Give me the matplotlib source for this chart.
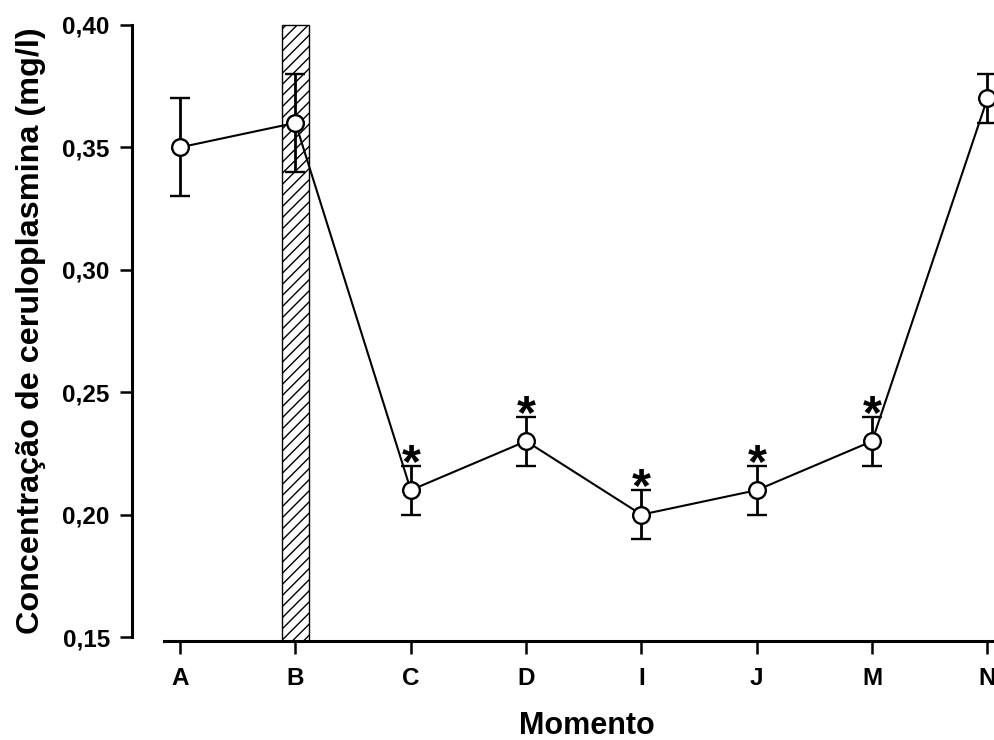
import numpy as np
import matplotlib
matplotlib.use("Agg")
import matplotlib.pyplot as plt

plt.rcParams['font.family'] = ['Liberation Sans', 'DejaVu Sans']
plt.rcParams['font.weight'] = 'bold'
plt.rcParams['hatch.linewidth'] = 1.0

# dados
momentos = ["A", "B", "C", "D", "I", "J", "M", "N"]
medias = [0.35, 0.36, 0.21, 0.23, 0.20, 0.21, 0.23, 0.37]
erros = [0.02, 0.02, 0.01, 0.01, 0.01, 0.01, 0.01, 0.01]
signif = [False, False, True, True, True, True, True, False]
barra_momento = 1      # faixa hachurada em B
barra_topo = 0.40

x = np.arange(len(momentos))
y_min = 0.1484

fig = plt.figure(figsize=(9.95, 7.4), dpi=100)
ax = fig.add_axes([164 / 995, 99 / 740, (1010.5 - 164) / 995, (641 - 20) / 740])

# faixa hachurada
ax.bar(barra_momento, barra_topo - y_min, bottom=y_min, width=0.24,
       facecolor="white", edgecolor="black", hatch="///", linewidth=1.0, zorder=1)

ax.errorbar(x, medias, yerr=erros, color="black", linewidth=1.5,
            elinewidth=2.0, capsize=7, capthick=2.0,
            marker="o", markersize=12, markerfacecolor="white",
            markeredgecolor="black", markeredgewidth=1.7, zorder=3)

for xi, m, e, s in zip(x, medias, erros, signif):
    if s:
        ax.annotate("*", (xi, m + e), xytext=(0, -8), textcoords="offset points",
                    ha="center", va="baseline", fontsize=35, fontweight="bold")

ax.set_xlim(-0.14, 7.2)
ax.set_ylim(y_min, 0.402)

ax.spines["top"].set_visible(False)
ax.spines["right"].set_visible(False)
ax.spines["left"].set_position(("outward", 23))
ax.spines["left"].set_bounds(0.15, 0.40)
for sp in ("left", "bottom"):
    ax.spines[sp].set_linewidth(2.2)

ax.set_yticks([0.15, 0.20, 0.25, 0.30, 0.35, 0.40])
ax.set_yticklabels(["0,15", "0,20", "0,25", "0,30", "0,35", "0,40"])
ax.set_xticks(x)
ax.set_xticklabels(momentos)
ax.tick_params(axis="y", length=9, width=1.8, pad=7, labelsize=17.5)
ax.tick_params(axis="x", length=9, width=1.8, pad=10, labelsize=17.5)

ax.set_xlabel("Momento", fontsize=22, fontweight="bold", labelpad=15)
ax.set_ylabel("Concentração de ceruloplasmina (mg/l)", fontsize=23.3,
              fontweight="bold", labelpad=12)

plt.savefig("out.png", dpi=100)
plt.close()
